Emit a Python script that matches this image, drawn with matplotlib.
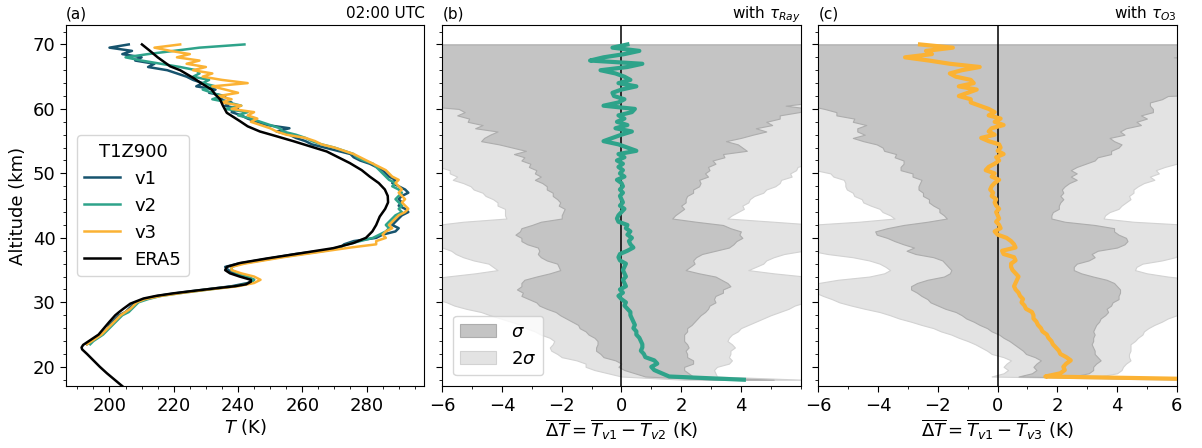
import numpy as np
import matplotlib.pyplot as plt
from matplotlib.ticker import MultipleLocator

# ---- ERA5 reference profile (altitude km, temperature K) ----
era5_alt = [17.0, 18.0, 19.0, 20.0, 21.0, 22.0, 22.7, 23.0, 23.4, 24.0, 25.0, 26.0, 27.0, 28.0,
            28.5, 29.0, 29.8, 30.6, 31.0, 31.4, 31.8, 32.2, 32.5, 32.8, 33.2, 33.5, 34.0, 34.5,
            35.0, 35.5, 36.1, 36.8, 37.6, 38.4, 39.2, 40.0, 41.0, 42.0, 43.3, 44.5, 45.5, 46.5,
            47.5, 48.5, 49.5, 50.5, 51.6, 52.5, 53.4, 54.2, 55.0, 55.8, 56.5, 57.3, 58.1, 59.4,
            60.5, 61.5, 62.3, 63.0, 64.0, 64.8, 66.0, 66.6, 68.0, 69.0, 70.0]
era5_t = [204.0, 201.6, 199.2, 197.0, 195.0, 193.0, 191.5, 191.3, 191.8, 193.6, 196.6, 198.3, 200.0,
          201.8, 203.0, 204.3, 206.5, 210.6, 214.5, 219.9, 226.5, 233.4, 239.0, 242.5, 244.0, 244.0,
          240.5, 237.5, 236.0, 236.5, 240.6, 248.9, 259.3, 269.6, 275.9, 279.8, 281.8, 283.0, 284.1,
          285.8, 286.7, 286.6, 285.7, 283.8, 281.0, 278.5, 274.8, 271.2, 267.6, 262.4, 257.2, 251.7,
          246.8, 243.0, 240.6, 236.5, 235.3, 234.4, 232.8, 231.8, 228.5, 226.1, 222.0, 218.9, 215.0,
          212.6, 210.1]

# ---- lidar profiles at 02:00 UTC, 23.5-70 km every 0.5 km (bottom to top) ----
lidar_alt = np.arange(23.5, 70.01, 0.5)
t_v1 = [193, 194.5, 196, 197.5, 198.5, 199.5, 200, 201, 202, 203, 205, 206, 207, 208, 211, 215,
        222, 230, 238, 243, 245, 242, 239, 237, 236, 240, 246, 252, 258, 266, 272, 273, 276, 283,
        285, 289, 290, 288, 289, 290, 291, 293, 292, 290, 291, 290, 291, 293, 292, 290, 288, 289,
        287, 286, 285, 283, 281, 278, 276, 275, 271, 267, 263, 261, 258, 256, 252, 256, 249, 246,
        243, 241, 238, 240, 236, 238, 234, 236, 231, 233, 227, 229, 226, 224, 221, 218, 212, 214,
        208, 210, 204, 207, 200, 206]
t_v2 = [194, 195, 196.5, 198, 199, 200, 201, 202, 203, 204, 206, 207, 208, 209, 212, 216, 223,
        231, 239, 244, 245, 243, 240, 238, 238, 241, 247, 253, 260, 267, 271, 274, 278, 282, 284,
        286, 287, 286, 287, 288, 289, 291, 290, 291, 290, 289, 290, 291, 290, 288, 289, 287, 286,
        285, 284, 283, 282, 279, 277, 276, 273, 270, 266, 263, 261, 258, 254, 253, 250, 247,
        244, 240, 243, 236, 241, 237, 232, 235, 232, 229, 233, 229, 231, 226, 228, 227, 222, 216,
        210, 205, 212, 220, 228, 242]
t_v3 = [193, 194.5, 196, 197.5, 198.5, 199.5, 200.5, 201.5, 202.5, 203.5, 205, 206.5, 207.5,
        208.5, 211, 216, 223, 231, 240, 245, 247, 245, 241, 238, 238, 242, 248, 254, 261, 268,
        275, 283, 283, 286, 285, 286, 288, 287, 288, 289, 290, 292, 293, 292, 291, 292, 291, 290,
        291, 290, 289, 290, 288, 287, 286, 284, 282, 280, 278, 276, 273, 270, 266, 264, 261, 255,
        252, 250, 247, 244, 246, 243, 245, 238, 241, 235, 238, 234, 240, 236, 232, 243, 235, 229,
        232, 226, 230, 224, 228, 221, 225, 219, 214, 222]

# ---- nightly mean differences and their spread, 18-70 km every 0.5 km ----
diff_alt = np.arange(18.0, 70.01, 0.5)
dt_12 = [4.1, 1.6, 1.35, 1.1, 1.0, 1.2, 1.1, 0.8, 0.75, 0.65, 0.7, 0.7, 0.65, 0.6, 0.5, 0.5,
         0.4, 0.45, 0.4, 0.35, 0.3, 0.3, 0.2, 0.1, 0.15, 0.0, -0.1, 0.05, -0.05, 0.15, 0.1, 0.05,
         0.15, 0.1, 0.05, 0.1, 0.15, -0.05, -0.1, -0.05, 0.2, 0.4, 0.3, 0.25, 0.35, 0.2, 0.3,
         0.15, 0.2, -0.1, -0.15, -0.1, 0.0, 0.1, -0.05, 0.05, 0.0, -0.05, 0.05, -0.05, 0.05, 0.0,
         -0.15, 0.1, -0.05, 0.05, -0.1, 0.05, -0.15, 0.1, -0.1, 0.5, 0.2, -0.1, -0.6, -0.3, 0.0,
         0.35, -0.2, 0.2, -0.15, 0.1, -0.1, 0.35, 0.45, -0.6, -0.1, 0.1, -0.25, -0.3, 0.0, 0.5,
         -0.1, 0.3, 0.1, -0.2, -0.7, 0.2, 0.7, -1.05, -0.6, 0.1, 0.6, -0.3, 0.2]
sig_12 = [1.0, 0.8, 0.9, 1.0, 1.1, 1.2, 1.3, 1.4, 1.45, 1.5, 1.55, 1.5, 1.45, 1.5, 1.6, 1.7,
          1.8, 1.9, 2.05, 2.2, 2.35, 2.5, 2.7, 2.85, 3.0, 3.1, 3.25, 3.35, 3.45, 3.5, 3.45, 3.3,
          3.0, 2.5, 2.1, 2.2, 2.3, 2.45, 2.6, 2.75, 2.95, 3.2, 3.45, 3.6, 3.7, 3.75, 3.7, 3.5,
          3.2, 2.6, 1.85, 1.9, 1.95, 2.0, 2.05, 2.1, 2.15, 2.25, 2.35, 2.45, 2.55, 2.65, 2.75,
          2.8, 2.85, 2.9, 3.0, 3.1, 3.2, 3.35, 3.5, 3.7, 3.85, 4.0, 4.1, 4.3, 4.4, 4.5, 4.7, 4.85,
          5.0, 5.2, 5.4, 5.6, 5.9, 6.1, 6.5, 8, 8, 8, 8, 8, 8, 8, 8, 8, 8, 8, 8, 8, 8, 8, 8, 8, 8]
dt_13 = [8.0, 1.6, 2.1, 2.25, 2.2, 2.3, 2.45, 2.3, 2.1, 2.05, 1.95, 1.85, 1.8, 1.7, 1.65, 1.5,
         1.45, 1.35, 1.3, 1.2, 1.2, 1.15, 0.95, 0.9, 0.8, 0.85, 0.75, 0.7, 0.6, 0.55, 0.6, 0.65,
         0.7, 0.6, 0.5, 0.45, 0.45, 0.6, 0.55, 0.2, 0.15, 0.6, 0.55, 0.45, 0.3, 0.0, -0.1, 0.1,
         0.05, -0.05, 0.05, 0.0, -0.05, 0.05, -0.05, -0.1, -0.05, -0.2, -0.15, -0.25, -0.2, -0.1,
         0.05, -0.2, -0.1, -0.4, -0.3, -0.1, 0.05, -0.05, 0.2, 0.0, 0.1, 0.05, -0.3, -0.55, -0.1,
         -0.3, -0.2, 0.2, -0.1, 0.1, -0.3, -0.1, -0.3, -0.6, -0.9, -0.9, -1.3, -1.0, -0.7, -1.3,
         -0.8, -0.9, -1.4, -1.6, -1.2, -0.6, -1.6, -2.3, -3.1, -2.2, -2.4, -1.5, -2.6]
sig_13 = [1.0, 0.9, 0.95, 0.95, 1.0, 1.0, 1.0, 1.05, 1.15, 1.2, 1.25, 1.3, 1.4, 1.5, 1.6, 1.7,
          1.8, 1.95, 2.1, 2.25, 2.4, 2.55, 2.7, 2.9, 3.05, 3.2, 3.3, 3.4, 3.5, 3.45, 3.3, 3.0,
          2.5, 2.2, 2.05, 2.1, 2.2, 2.45, 2.7, 2.95, 3.2, 3.4, 3.7, 3.9, 4.0, 4.05, 4.0, 3.8,
          3.2, 2.3, 1.75, 1.8, 1.9, 2.0, 2.1, 2.2, 2.25, 2.3, 2.35, 2.4, 2.45, 2.5, 2.6, 2.65,
          2.75, 2.85, 2.95, 3.05, 3.2, 3.4, 3.6, 3.8, 3.95, 4.1, 4.2, 4.3, 4.35, 4.4, 4.5, 4.6,
          4.75, 4.9, 5.1, 5.3, 5.5, 5.7, 6.0, 6.4, 7.0, 9, 9, 9, 9, 9, 9, 9, 9, 9, 9, 9, 9, 9, 9,
          9, 9]

C_V1 = "#17546e"
C_V2 = "#2ea38a"
C_V3 = "#fbb234"
C_SIG1 = "#c4c4c4"
C_SIG2 = "#e3e3e3"

plt.rcParams["font.size"] = 13

fig, axes = plt.subplots(1, 3, figsize=(12.02, 4.48), dpi=100, sharey=True)
fig.subplots_adjust(left=0.055, right=0.979, top=0.944, bottom=0.138, wspace=0.05)

# (a) temperature profiles
ax = axes[0]
ax.plot(t_v1, lidar_alt, color=C_V1, lw=1.8, label="v1")
ax.plot(t_v2, lidar_alt, color=C_V2, lw=1.8, label="v2")
ax.plot(t_v3, lidar_alt, color=C_V3, lw=1.8, label="v3")
ax.plot(era5_t, era5_alt, color="black", lw=1.8, label="ERA5")
ax.set_xlim(186.5, 298)
ax.set_ylim(17, 73)
ax.xaxis.set_major_locator(MultipleLocator(20))
ax.xaxis.set_minor_locator(MultipleLocator(5))
ax.yaxis.set_major_locator(MultipleLocator(10))
ax.yaxis.set_minor_locator(MultipleLocator(2))
ax.set_xlabel("$T$ (K)", labelpad=2)
ax.set_ylabel("Altitude (km)")
ax.set_title("(a)", loc="left", fontsize=11, pad=5)
ax.set_title("02:00 UTC", loc="right", fontsize=11, pad=5)
ax.legend(title="T1Z900", loc="center left", fontsize=13, title_fontsize=13,
          handlelength=2.0, borderaxespad=0.6)

# (b), (c) mean differences with spread
panels = [
    (axes[1], dt_12, sig_12, C_V2, "(b)", r"with $\tau_{Ray}$",
     r"$\overline{\Delta T} = \overline{T_{v1} - T_{v2}}$ (K)", [-6, -4, -2, 0, 2, 4]),
    (axes[2], dt_13, sig_13, C_V3, "(c)", r"with $\tau_{O3}$",
     r"$\overline{\Delta T} = \overline{T_{v1} - T_{v3}}$ (K)", [-6, -4, -2, 0, 2, 4, 6]),
]
for ax, dt, sig, col, tag, note, xlab, xt in panels:
    dt = np.asarray(dt)
    sig = np.asarray(sig)
    ax.fill_betweenx(diff_alt, dt - 2 * sig, dt + 2 * sig, facecolor=C_SIG2,
                     edgecolor="#d2d2d2", lw=0.8, label=r"$2\sigma$", zorder=1)
    ax.fill_betweenx(diff_alt, dt - sig, dt + sig, facecolor=C_SIG1,
                     edgecolor="#adadad", lw=0.8, label=r"$\sigma$", zorder=2)
    ax.axvline(0, color="black", lw=1.1, zorder=3)
    ax.plot(dt, diff_alt, color=col, lw=3, zorder=4)
    ax.set_xlim(-6, 6)
    ax.set_xticks(xt)
    ax.xaxis.set_minor_locator(MultipleLocator(1))
    ax.set_xlabel(xlab, labelpad=2)
    ax.set_title(tag, loc="left", fontsize=11, pad=5)
    ax.set_title(note, loc="right", fontsize=11, pad=5)

h, l = axes[1].get_legend_handles_labels()
axes[1].legend(h[::-1], l[::-1], loc="lower left", fontsize=13, handlelength=2.0,
               borderaxespad=0.6)

for ax in axes:
    ax.tick_params(which="major", length=4)
    ax.tick_params(which="minor", length=2)

fig.savefig("out.png", dpi=100)
